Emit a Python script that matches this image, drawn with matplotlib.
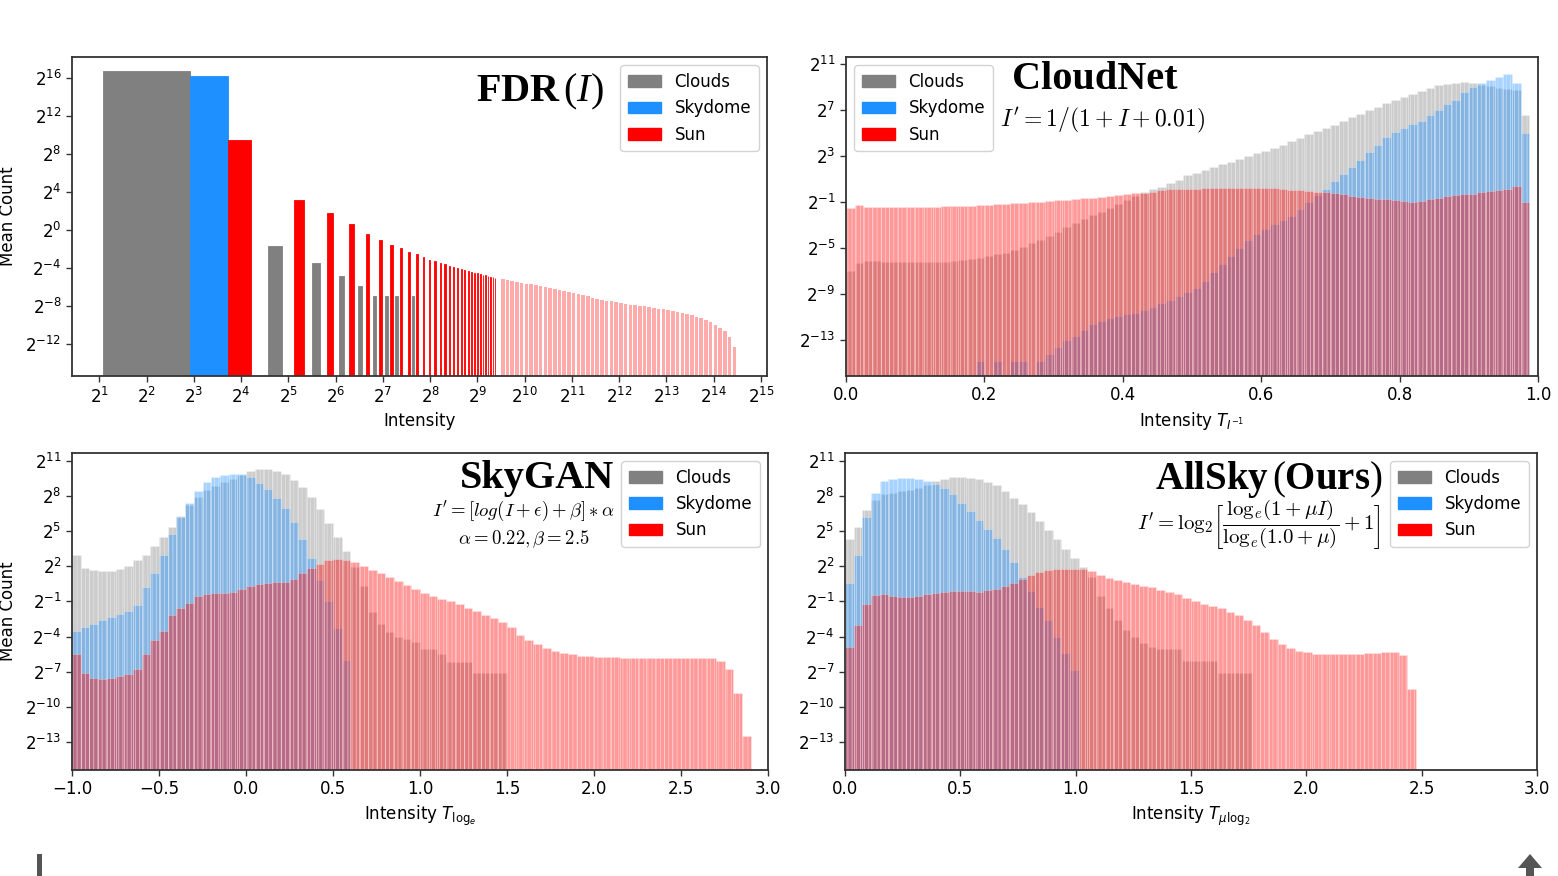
import numpy as np
import matplotlib
matplotlib.use("Agg")
import matplotlib.pyplot as plt
from matplotlib.patches import Patch, Polygon, Rectangle
from matplotlib.ticker import NullLocator

nan = np.nan

# ---------------------------------------------------------------
# Data: log2 of the mean count per histogram bin
# ---------------------------------------------------------------
series_names = ["Clouds", "Skydome", "Sun"]

# FDR (I): side-by-side histogram bins on a log2 intensity axis
fdr_clouds = [16.7, -1.7, -3.5, -4.9, -5.9, -7.0, -7.0, -7.0, nan, -7.0]
fdr_skydome = [16.2]
fdr_sun = [9.5, 3.1, 1.77, 0.6, -0.4, -1.1, -1.6, -1.9, -2.3, -2.6,
           -2.9, -3.15, -3.3, -3.45, -3.6, -3.8, -3.9, -4.05, -4.15, -4.25,
           -4.35, -4.4, -4.5, -4.6, -4.65, -4.75, -4.8, -4.85, -4.95, -5.0,
           -5.05]
# long thin tail of the Sun histogram (log2 intensity -> log2 mean count)
fdr_tail_log2I = [9.5, 9.6, 9.7, 9.8, 9.9, 10.0, 10.1, 10.2, 10.3, 10.4,
                  10.5, 10.6, 10.7, 10.8, 10.9, 11.0, 11.1, 11.2, 11.3, 11.4,
                  11.5, 11.6, 11.7, 11.8, 11.9, 12.0, 12.1, 12.2, 12.3, 12.4,
                  12.5, 12.6, 12.7, 12.8, 12.9, 13.0, 13.1, 13.2, 13.3, 13.4,
                  13.5, 13.6, 13.7, 13.8, 13.9, 14.0, 14.1, 14.2, 14.3, 14.4]
fdr_tail_sun = [-5.2, -5.3, -5.4, -5.5, -5.6, -5.7, -5.75, -5.85, -5.95, -6.05,
                -6.1, -6.2, -6.3, -6.45, -6.55, -6.7, -6.8, -6.9, -7.0, -7.15,
                -7.25, -7.35, -7.45, -7.55, -7.65, -7.75, -7.8, -7.9, -7.95, -8.0,
                -8.05, -8.1, -8.2, -8.3, -8.35, -8.45, -8.55, -8.65, -8.75, -8.85,
                -9.0, -9.15, -9.3, -9.5, -9.7, -10.0, -10.3, -10.7, -11.3, -12.3]

# CloudNet: 80 bins over [0, 1]
cloudnet_clouds = [-7.0, -6.3, -6.1, -6.15, -6.2, -6.2, -6.2, -6.2, -6.2, -6.2,
                   -6.2, -6.2, -6.15, -6.05, -5.95, -5.85, -5.7, -5.55, -5.4, -5.15,
                   -4.9, -4.6, -4.3, -3.95, -3.6, -3.2, -2.8, -2.45, -2.15, -1.85,
                   -1.55, -1.2, -0.85, -0.5, -0.15, 0.1, 0.3, 0.6, 0.9, 1.3,
                   1.5, 1.75, 2.0, 2.3, 2.5, 2.75, 2.95, 3.2, 3.45, 3.7,
                   3.95, 4.25, 4.55, 4.85, 5.15, 5.45, 5.7, 6.0, 6.35, 6.65,
                   6.95, 7.25, 7.6, 7.85, 8.1, 8.35, 8.65, 8.9, 9.1, 9.25,
                   9.35, 9.4, 9.3, 9.15, 9.05, 8.9, 8.8, 8.7, 6.5, nan]
cloudnet_skydome = [nan, nan, nan, nan, nan, nan, nan, nan, nan, nan,
                    nan, nan, nan, nan, nan, -14.8, nan, -14.8, nan, -14.8,
                    -14.8, nan, -14.8, -14.2, -13.6, -13.0, -12.6, -12.1, -11.6, -11.3,
                    -11.1, -10.9, -10.7, -10.6, -10.4, -10.1, -9.8, -9.5, -9.2, -8.8,
                    -8.5, -7.9, -7.1, -6.4, -5.7, -5.0, -4.3, -3.75, -3.35, -2.95,
                    -2.6, -2.2, -1.6, -1.0, -0.4, 0.1, 0.8, 1.45, 2.0, 2.65,
                    3.3, 3.9, 4.6, 5.1, 5.45, 5.75, 6.05, 6.5, 7.0, 7.45,
                    7.8, 8.5, 9.0, 9.35, 9.6, 9.85, 10.1, 9.3, 5.0, nan]
cloudnet_sun = [-1.5, -1.25, -1.4, -1.43, -1.43, -1.43, -1.43, -1.43, -1.43, -1.42,
                -1.4, -1.38, -1.36, -1.34, -1.32, -1.3, -1.26, -1.22, -1.17, -1.12,
                -1.07, -1.02, -0.97, -0.9, -0.85, -0.8, -0.75, -0.7, -0.63, -0.56,
                -0.5, -0.42, -0.34, -0.26, -0.2, -0.1, 0.0, 0.1, 0.15, 0.15,
                0.15, 0.18, 0.2, 0.22, 0.24, 0.25, 0.25, 0.25, 0.22, 0.18,
                0.1, 0.05, 0.0, -0.05, -0.1, -0.15, -0.25, -0.35, -0.45, -0.57,
                -0.65, -0.72, -0.78, -0.82, -0.9, -1.0, -0.9, -0.75, -0.62, -0.5,
                -0.4, -0.3, -0.28, -0.15, -0.05, 0.05, 0.16, 0.4, -1.0, nan]

# SkyGAN: 78 bins over [-1, 2.9]
skygan_clouds = [3.0, 1.85, 1.7, 1.62, 1.62, 1.75, 2.0, 2.5, 3.0, 3.7,
                 4.5, 5.4, 6.3, 7.2, 7.9, 8.5, 8.9, 9.2, 9.5, 9.8,
                 10.1, 10.3, 10.35, 10.15, 9.85, 9.4, 8.8, 7.9, 6.9, 5.7,
                 4.5, 3.3, 1.9, 0.3, -1.9, -2.9, -3.6, -4.0, -4.25, -4.45,
                 -5.06, -5.06, -5.48, -6.14, -6.14, -6.14, -7.1, -7.1, -7.1, -7.1,
                 nan, nan, nan, nan, nan, nan, nan, nan, nan, nan,
                 nan, nan, nan, nan, nan, nan, nan, nan, nan, nan,
                 nan, nan, nan, nan, nan, nan, nan, nan]
skygan_skydome = [-3.5, -3.2, -2.9, -2.6, -2.35, -2.1, -1.8, -1.3, 0.2, 1.4,
                  3.0, 4.8, 6.2, 7.4, 8.4, 9.2, 9.6, 9.8, 9.89, 9.86,
                  9.6, 9.1, 8.6, 7.8, 7.0, 5.8, 4.3, 2.7, 0.8, -1.0,
                  -3.3, -6.0, nan, nan, nan, nan, nan, nan, nan, nan,
                  nan, nan, nan, nan, nan, nan, nan, nan, nan, nan,
                  nan, nan, nan, nan, nan, nan, nan, nan, nan, nan,
                  nan, nan, nan, nan, nan, nan, nan, nan, nan, nan,
                  nan, nan, nan, nan, nan, nan, nan, nan]
skygan_sun = [-5.5, -7.1, -7.5, -7.6, -7.55, -7.4, -7.2, -6.8, -5.5, -4.3,
              -3.5, -2.2, -1.6, -1.1, -0.55, -0.35, -0.28, -0.25, -0.2, 0.05,
              0.3, 0.47, 0.6, 0.67, 0.67, 0.95, 1.4, 1.85, 2.2, 2.5,
              2.6, 2.55, 2.35, 2.0, 1.7, 1.4, 1.05, 0.75, 0.43, 0.1,
              -0.3, -0.55, -0.78, -1.0, -1.25, -1.55, -1.85, -2.15, -2.45, -2.75,
              -3.2, -3.85, -4.3, -4.63, -4.95, -5.2, -5.38, -5.5, -5.62, -5.68,
              -5.72, -5.75, -5.77, -5.8, -5.8, -5.82, -5.85, -5.85, -5.83, -5.82,
              -5.83, -5.85, -5.85, -5.85, -6.05, -6.8, -8.8, -12.5]

# AllSky (Ours): 67 bins over [0, 2.5125]
allsky_clouds = [4.3, 5.4, 6.8, 7.7, 8.15, 8.3, 8.4, 8.55, 8.7, 8.95,
                 9.25, 9.5, 9.6, 9.64, 9.58, 9.45, 9.2, 8.95, 8.4, 7.85,
                 7.3, 6.65, 5.9, 5.1, 4.3, 3.5, 2.7, 1.9, 1.1, -0.5,
                 -1.6, -2.6, -3.45, -4.0, -4.55, -4.85, -5.05, -5.06, -5.06, -6.05,
                 -6.05, -6.05, -6.05, -7.1, -7.1, -7.1, -7.1, nan, nan, nan,
                 nan, nan, nan, nan, nan, nan, nan, nan, nan, nan,
                 nan, nan, nan, nan, nan, nan, nan]
allsky_skydome = [0.6, 3.0, 6.2, 8.3, 9.3, 9.5, 9.55, 9.55, 9.45, 9.3,
                  9.05, 8.7, 8.15, 7.4, 6.7, 5.95, 5.2, 4.45, 3.45, 2.35,
                  1.1, -0.15, -1.45, -2.6, -4.0, -5.4, -6.9, nan, nan, nan,
                  nan, nan, nan, nan, nan, nan, nan, nan, nan, nan,
                  nan, nan, nan, nan, nan, nan, nan, nan, nan, nan,
                  nan, nan, nan, nan, nan, nan, nan, nan, nan, nan,
                  nan, nan, nan, nan, nan, nan, nan]
allsky_sun = [-4.9, -3.0, -1.2, -0.45, -0.4, -0.5, -0.6, -0.62, -0.5, -0.4,
              -0.3, -0.23, -0.15, -0.09, -0.12, -0.18, -0.05, 0.08, 0.33, 0.6,
              0.95, 1.25, 1.5, 1.65, 1.78, 1.81, 1.81, 1.77, 1.6, 1.3,
              1.0, 0.8, 0.65, 0.5, 0.35, 0.2, 0.0, -0.2, -0.4, -0.7,
              -1.0, -1.2, -1.4, -1.6, -1.9, -2.2, -2.55, -3.0, -3.6, -4.2,
              -4.6, -4.95, -5.2, -5.35, -5.45, -5.48, -5.48, -5.48, -5.46, -5.45,
              -5.42, -5.38, -5.35, -5.34, -5.6, -8.5, nan]

# ---------------------------------------------------------------
# Styling
# ---------------------------------------------------------------
plt.rcParams.update({
    "font.family": ["DejaVu Sans"],
    "mathtext.fontset": "dejavusans",
    "mathtext.rm": "Liberation Serif",
    "mathtext.it": "Liberation Serif:italic",
    "mathtext.bf": "Liberation Serif:bold",
    "hatch.linewidth": 0.6,
})
COLORS = ["gray", "dodgerblue", "red"]
SPINE = "#333333"
W, H = 1558, 876

fig = plt.figure(figsize=(W / 100, H / 100), dpi=100)
fig.patch.set_facecolor("white")


def add_ax(x0, x1, ytop, ybot):
    return fig.add_axes([x0 / W, (H - ybot) / H, (x1 - x0) / W, (ybot - ytop) / H])


ax_fdr = add_ax(72, 767, 57, 376)
ax_cn = add_ax(846, 1538, 57, 376)
ax_sg = add_ax(72, 768, 453, 770)
ax_as = add_ax(845, 1537, 453, 770)


def p2(e):
    return r"$\mathdefault{2^{%d}}$" % e


def style(ax, yexps, ylo, yhi):
    ax.set_yscale("log", base=2)
    ax.set_ylim(2.0 ** ylo, 2.0 ** yhi)
    ax.set_yticks([2.0 ** e for e in yexps], [p2(e) for e in yexps])
    ax.yaxis.set_minor_locator(NullLocator())
    for s in ax.spines.values():
        s.set_color(SPINE)
        s.set_linewidth(1.3)
    ax.tick_params(labelsize=12, length=4, width=1.0, color=SPINE)


def legend(ax, loc):
    handles = [Patch(facecolor=c, edgecolor=c, label=n) for c, n in zip(COLORS, series_names)]
    ax.legend(handles=handles, loc=loc, fontsize=12, framealpha=0.85,
              edgecolor="#cccccc", handlelength=2.0, borderpad=0.45)


# ---------------- FDR panel ----------------
FDR_BIN0, FDR_BINW, FDR_BARW = 2.1, 21.6, 5.5
style(ax_fdr, [16, 12, 8, 4, 0, -4, -8, -12], -15.4, 18.2)
ax_fdr.set_xscale("log", base=2)
ax_fdr.set_xlim(2.0 ** 0.42, 2.0 ** 15.13)
xe = list(range(1, 16))
ax_fdr.set_xticks([2.0 ** e for e in xe], [p2(e) for e in xe])
ax_fdr.xaxis.set_minor_locator(NullLocator())

for j, (vals, col) in enumerate(zip([fdr_clouds, fdr_skydome, fdr_sun], COLORS)):
    v = np.asarray(vals, float)
    k = np.arange(len(v))
    left = FDR_BIN0 + FDR_BINW * k + j * FDR_BARW
    m = ~np.isnan(v)
    ax_fdr.bar(left[m], 2.0 ** v[m], width=FDR_BARW, align="edge", color=col,
               edgecolor=col, linewidth=0.6)

tail_p = np.asarray(fdr_tail_log2I)
tail_left = 2.0 ** tail_p
tail_w = 2.0 ** (tail_p + 0.075) - tail_left
ax_fdr.bar(tail_left, 2.0 ** np.asarray(fdr_tail_sun), width=tail_w, align="edge",
           color="red", alpha=0.33, linewidth=0)

ax_fdr.set_xlabel("Intensity", fontsize=12)
ax_fdr.set_ylabel("Mean Count", fontsize=12, labelpad=6)
legend(ax_fdr, "upper right")
ax_fdr.text(0.673, 0.89, r"$\mathbf{FDR}\,(\mathit{I})$", transform=ax_fdr.transAxes,
            fontsize=29, ha="center", va="center", math_fontfamily="custom")


# ---------------- overlay panels ----------------
def overlay(ax, start, width, series):
    for vals, col in zip(series, COLORS):
        v = np.asarray(vals, float)
        left = start + width * np.arange(len(v))
        m = ~np.isnan(v)
        ax.bar(left[m], 2.0 ** v[m], width=width, align="edge", color=col,
               alpha=0.4, edgecolor="white", linewidth=0.4, hatch="||||")


# CloudNet
style(ax_cn, [11, 7, 3, -1, -5, -9, -13], -16.1, 11.57)
overlay(ax_cn, 0.0, 0.0125, [cloudnet_clouds, cloudnet_skydome, cloudnet_sun])
ax_cn.set_xlim(0, 1)
ax_cn.set_xticks([0, 0.2, 0.4, 0.6, 0.8, 1.0])
ax_cn.set_xlabel(r"Intensity $T_{I^{-1}}$", fontsize=12)
legend(ax_cn, "upper left")
ax_cn.text(0.36, 0.928, "CloudNet", transform=ax_cn.transAxes, fontsize=29,
           family="Liberation Serif", weight="bold", ha="center", va="center")
ax_cn.text(0.37, 0.80, r"$I' = 1/(1+I+0.01)$", transform=ax_cn.transAxes,
           fontsize=17, ha="center", va="center", math_fontfamily="cm")

# SkyGAN
style(ax_sg, [11, 8, 5, 2, -1, -4, -7, -10, -13], -15.4, 11.68)
overlay(ax_sg, -1.0, 0.05, [skygan_clouds, skygan_skydome, skygan_sun])
ax_sg.set_xlim(-1, 3)
ax_sg.set_xticks([-1.0, -0.5, 0.0, 0.5, 1.0, 1.5, 2.0, 2.5, 3.0])
ax_sg.set_xlabel(r"Intensity $T_{\log_e}$", fontsize=12)
ax_sg.set_ylabel("Mean Count", fontsize=12, labelpad=6)
legend(ax_sg, "upper right")
ax_sg.text(0.668, 0.921, "SkyGAN", transform=ax_sg.transAxes, fontsize=29,
           family="Liberation Serif", weight="bold", ha="center", va="center")
ax_sg.text(0.649, 0.817, r"$I' = [log(I+\epsilon)+\beta]*\alpha$", transform=ax_sg.transAxes,
           fontsize=13.5, ha="center", va="center", math_fontfamily="cm")
ax_sg.text(0.649, 0.729, r"$\alpha = 0.22, \beta = 2.5$", transform=ax_sg.transAxes,
           fontsize=13.5, ha="center", va="center", math_fontfamily="cm")

# AllSky
style(ax_as, [11, 8, 5, 2, -1, -4, -7, -10, -13], -15.4, 11.68)
overlay(ax_as, 0.0, 0.0375, [allsky_clouds, allsky_skydome, allsky_sun])
ax_as.set_xlim(0, 3)
ax_as.set_xticks([0.0, 0.5, 1.0, 1.5, 2.0, 2.5, 3.0])
ax_as.set_xlabel(r"Intensity $T_{\mu\log_2}$", fontsize=12)
legend(ax_as, "upper right")
ax_as.text(0.612, 0.915, r"$\mathbf{AllSky}\,(\mathbf{Ours})$", transform=ax_as.transAxes,
           fontsize=28, ha="center", va="center", math_fontfamily="custom")
ax_as.text(0.598, 0.773,
           r"$I' = \mathrm{log}_2\left[\dfrac{\mathrm{log}_e(1+\mu I)}{\mathrm{log}_e(1.0+\mu)}+1\right]$",
           transform=ax_as.transAxes, fontsize=15, ha="center", va="center",
           math_fontfamily="cm")

# small page decorations at the bottom edge
fig.add_artist(Rectangle((37 / W, 0), 5 / W, 22 / H, transform=fig.transFigure,
                         color="#555555", linewidth=0))
fig.add_artist(Polygon([(1518 / W, 8 / H), (1530 / W, 22 / H), (1542 / W, 8 / H),
                        (1534 / W, 8 / H), (1534 / W, 0), (1526 / W, 0), (1526 / W, 8 / H)],
                       closed=True, transform=fig.transFigure, color="#555555",
                       linewidth=0))

fig.savefig("out.png", dpi=100, facecolor="white")
